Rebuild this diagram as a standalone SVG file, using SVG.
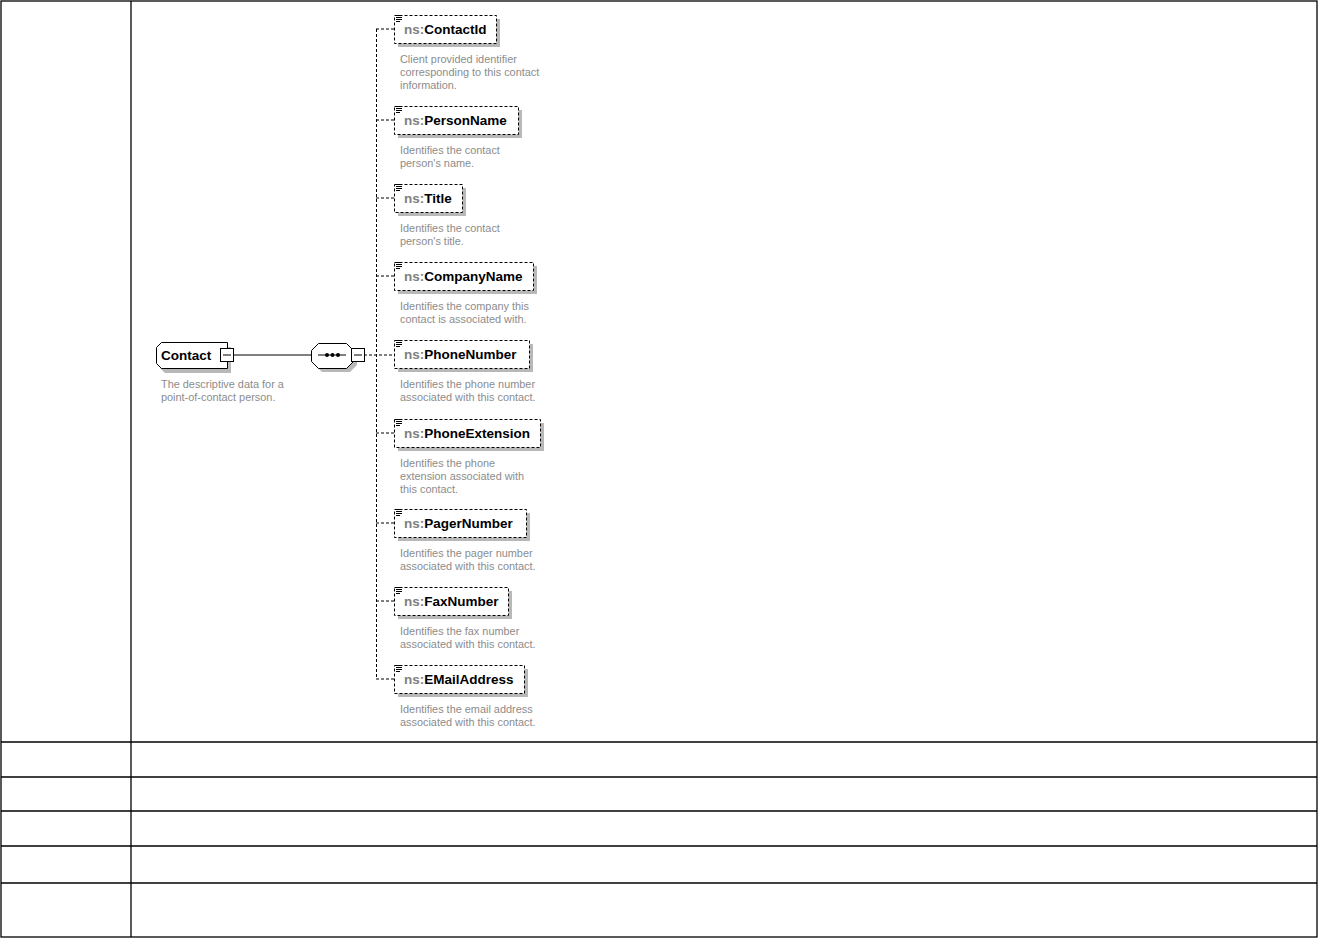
<svg xmlns="http://www.w3.org/2000/svg" width="1318" height="938" viewBox="0 0 1318 938">
<style>
.grid{stroke:#000;stroke-width:1.3;fill:none}
.name{font-family:"Liberation Sans",Arial,sans-serif;font-weight:bold;font-size:13.5px;fill:#000}
.ns{fill:#808080}
.desc{font-family:"Liberation Sans",Arial,sans-serif;font-size:10.9px;fill:#8c8c8c}
.ebox{fill:#fff;stroke:#000;stroke-width:1;stroke-dasharray:3,2}
.shadow{fill:#b8b8b8;stroke:none}
.solid{fill:#fff;stroke:#000;stroke-width:1}
.conn{stroke:#000;stroke-width:1;fill:none;stroke-dasharray:3,2}
.icon{stroke:#000;stroke-width:1;fill:none}
</style>
<rect width="1318" height="938" fill="#fff"/>
<g id="table">
<rect class="grid" x="1" y="1" width="1316" height="936"/>
<line class="grid" x1="131" y1="1" x2="131" y2="937"/>
<line class="grid" x1="1" y1="742" x2="1317" y2="742"/>
<line class="grid" x1="1" y1="777" x2="1317" y2="777"/>
<line class="grid" x1="1" y1="811" x2="1317" y2="811"/>
<line class="grid" x1="1" y1="846" x2="1317" y2="846"/>
<line class="grid" x1="1" y1="883" x2="1317" y2="883"/>
</g>
<g id="connectors">
<line x1="233" y1="355" x2="311" y2="355" stroke="#000" stroke-width="1"/>
<line class="conn" x1="364" y1="355" x2="394" y2="355"/>
<line class="conn" x1="376.5" y1="29" x2="376.5" y2="679"/>
<line class="conn" x1="376" y1="29" x2="394" y2="29"/>
<line class="conn" x1="376" y1="120" x2="394" y2="120"/>
<line class="conn" x1="376" y1="198" x2="394" y2="198"/>
<line class="conn" x1="376" y1="276" x2="394" y2="276"/>
<line class="conn" x1="376" y1="433" x2="394" y2="433"/>
<line class="conn" x1="376" y1="523" x2="394" y2="523"/>
<line class="conn" x1="376" y1="601" x2="394" y2="601"/>
<line class="conn" x1="376" y1="679" x2="394" y2="679"/>
</g>
<g id="Contact">
<path class="shadow" d="M165,347 L231,347 L231,373 L165,373 L160,368 L160,352 Z"/>
<path class="solid" d="M161.5,342.5 L227.5,342.5 L227.5,368.5 L161.5,368.5 L156.5,363.5 L156.5,347.5 Z"/>
<text class="name" x="161" y="359.5">Contact</text>
<rect class="solid" x="220.5" y="348.5" width="13" height="13"/>
<line x1="223" y1="355" x2="231" y2="355" stroke="#000"/>
<text class="desc"><tspan x="161" y="388">The descriptive data for a</tspan><tspan x="161" y="401">point-of-contact person.</tspan></text>
</g>
<g id="sequence">
<path class="shadow" d="M322,347 L350,347 L357,354 L357,365 L350,372 L322,372 L315,365 L315,354 Z"/>
<path class="solid" d="M318.5,343.5 L346.5,343.5 L353.5,350.5 L353.5,361.5 L346.5,368.5 L318.5,368.5 L311.5,361.5 L311.5,350.5 Z"/>
<line x1="318" y1="355" x2="346" y2="355" stroke="#000"/>
<circle cx="327" cy="355" r="2" fill="#000"/>
<circle cx="332.5" cy="355" r="2" fill="#000"/>
<circle cx="338" cy="355" r="2" fill="#000"/>
<rect class="solid" x="351.5" y="348.5" width="13" height="13"/>
<line x1="354" y1="355" x2="362" y2="355" stroke="#000"/>
</g>
<g id="ContactId">
<rect class="shadow" x="398" y="19" width="102" height="28"/>
<rect class="ebox" x="394.5" y="15.5" width="102" height="28"/>
<path class="icon" d="M396,15.5h4M396,17.5h6M396,19.5h6M396,21.5h4"/>
<text class="name" x="404" y="34"><tspan class="ns">ns:</tspan>ContactId</text>
<text class="desc"><tspan x="400" y="62.5">Client provided identifier</tspan><tspan x="400" y="75.5">corresponding to this contact</tspan><tspan x="400" y="88.5">information.</tspan></text>
</g>
<g id="PersonName">
<rect class="shadow" x="398" y="110" width="124" height="28"/>
<rect class="ebox" x="394.5" y="106.5" width="124" height="28"/>
<path class="icon" d="M396,106.5h4M396,108.5h6M396,110.5h6M396,112.5h4"/>
<text class="name" x="404" y="125"><tspan class="ns">ns:</tspan>PersonName</text>
<text class="desc"><tspan x="400" y="153.5">Identifies the contact</tspan><tspan x="400" y="166.5">person's name.</tspan></text>
</g>
<g id="Title">
<rect class="shadow" x="398" y="188" width="68" height="28"/>
<rect class="ebox" x="394.5" y="184.5" width="68" height="28"/>
<path class="icon" d="M396,184.5h4M396,186.5h6M396,188.5h6M396,190.5h4"/>
<text class="name" x="404" y="203"><tspan class="ns">ns:</tspan>Title</text>
<text class="desc"><tspan x="400" y="231.5">Identifies the contact</tspan><tspan x="400" y="244.5">person's title.</tspan></text>
</g>
<g id="CompanyName">
<rect class="shadow" x="398" y="266" width="139" height="28"/>
<rect class="ebox" x="394.5" y="262.5" width="139" height="28"/>
<path class="icon" d="M396,262.5h4M396,264.5h6M396,266.5h6M396,268.5h4"/>
<text class="name" x="404" y="281"><tspan class="ns">ns:</tspan>CompanyName</text>
<text class="desc"><tspan x="400" y="309.5">Identifies the company this</tspan><tspan x="400" y="322.5">contact is associated with.</tspan></text>
</g>
<g id="PhoneNumber">
<rect class="shadow" x="398" y="344" width="135" height="28"/>
<rect class="ebox" x="394.5" y="340.5" width="135" height="28"/>
<path class="icon" d="M396,340.5h4M396,342.5h6M396,344.5h6M396,346.5h4"/>
<text class="name" x="404" y="359"><tspan class="ns">ns:</tspan>PhoneNumber</text>
<text class="desc"><tspan x="400" y="387.5">Identifies the phone number</tspan><tspan x="400" y="400.5">associated with this contact.</tspan></text>
</g>
<g id="PhoneExtension">
<rect class="shadow" x="398" y="423" width="146" height="28"/>
<rect class="ebox" x="394.5" y="419.5" width="146" height="28"/>
<path class="icon" d="M396,419.5h4M396,421.5h6M396,423.5h6M396,425.5h4"/>
<text class="name" x="404" y="438"><tspan class="ns">ns:</tspan>PhoneExtension</text>
<text class="desc"><tspan x="400" y="466.5">Identifies the phone</tspan><tspan x="400" y="479.5">extension associated with</tspan><tspan x="400" y="492.5">this contact.</tspan></text>
</g>
<g id="PagerNumber">
<rect class="shadow" x="398" y="513" width="132" height="28"/>
<rect class="ebox" x="394.5" y="509.5" width="132" height="28"/>
<path class="icon" d="M396,509.5h4M396,511.5h6M396,513.5h6M396,515.5h4"/>
<text class="name" x="404" y="528"><tspan class="ns">ns:</tspan>PagerNumber</text>
<text class="desc"><tspan x="400" y="556.5">Identifies the pager number</tspan><tspan x="400" y="569.5">associated with this contact.</tspan></text>
</g>
<g id="FaxNumber">
<rect class="shadow" x="398" y="591" width="114" height="28"/>
<rect class="ebox" x="394.5" y="587.5" width="114" height="28"/>
<path class="icon" d="M396,587.5h4M396,589.5h6M396,591.5h6M396,593.5h4"/>
<text class="name" x="404" y="606"><tspan class="ns">ns:</tspan>FaxNumber</text>
<text class="desc"><tspan x="400" y="634.5">Identifies the fax number</tspan><tspan x="400" y="647.5">associated with this contact.</tspan></text>
</g>
<g id="EMailAddress">
<rect class="shadow" x="398" y="669" width="130" height="28"/>
<rect class="ebox" x="394.5" y="665.5" width="130" height="28"/>
<path class="icon" d="M396,665.5h4M396,667.5h6M396,669.5h6M396,671.5h4"/>
<text class="name" x="404" y="684"><tspan class="ns">ns:</tspan>EMailAddress</text>
<text class="desc"><tspan x="400" y="712.5">Identifies the email address</tspan><tspan x="400" y="725.5">associated with this contact.</tspan></text>
</g>
</svg>
